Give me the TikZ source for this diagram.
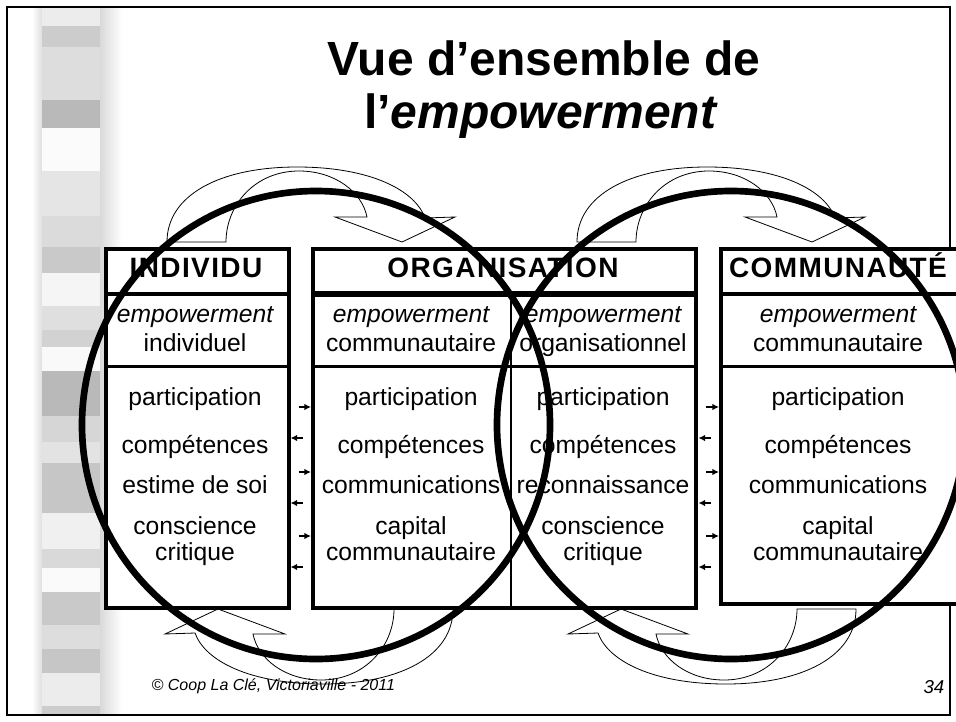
\documentclass[tikz,border=0pt]{standalone}
\usepackage{fontspec}
\setmainfont{Liberation Sans}
\usetikzlibrary{arrows.meta}

\tikzset{
  colbox/.style={draw, line width=3pt, fill=white, anchor=north west, inner sep=0pt},
  hdrline/.style={line width=3pt},
  subline/.style={line width=1.8pt},
  titletxt/.style={anchor=base, font=\fontsize{36}{40}\selectfont\bfseries},
  hdrtxt/.style={anchor=base, font=\fontsize{21}{25}\selectfont\bfseries\addfontfeature{LetterSpace=5}},
  cellitem/.style={anchor=base, font=\fontsize{18.5}{22}\selectfont},
  smallarr/.style={line width=1.2pt, shorten <=6pt, -{Latex[length=5pt,width=5pt]}},
  blockarr/.style={line width=0.6pt, fill=white},
  bigring/.style={line width=5pt},
  pics/bentarrow/.style={code={
    \draw[blockarr] (167,242) .. controls (167,195) and (220,167) .. (297,167)
      .. controls (370,167) and (415,190) .. (425,218) -- (455,217) -- (402,242)
      -- (335,217) -- (367,217) .. controls (362,192) and (335,171) .. (299,171)
      .. controls (255,171) and (226,205) .. (226,242) -- cycle;
  }},
}

\begin{document}
\begin{tikzpicture}[x=0.75pt, y=-0.75pt]
    \useasboundingbox (0,0) rectangle (956,721);
    \clip (0,0) rectangle (956,721);

    % left band of the slide
    \shade[left color=gray!35, right color=white] (96,7) rectangle (122,715);
    \shade[left color=white, right color=gray!25] (32,7) rectangle (42,715);
    \foreach \ya/\yb/\g in {7/26/15, 26/47/40, 47/100/27, 100/128/55, 128/171/3,
        171/216/20, 216/247/28, 247/273/42, 273/306/8, 306/330/25, 330/347/35,
        347/371/5, 371/416/55, 416/442/32, 442/463/22, 463/513/45, 513/549/12,
        549/568/30, 568/592/4, 592/625/42, 625/649/27, 649/673/45, 673/706/15,
        706/715/40}
        \fill[gray!\g] (42,\ya) rectangle (100,\yb);

    % slide frame
    \draw[line width=1.5pt] (7,7) rectangle (950,715);

    % title
    \node[titletxt] (title1) at (544,75) {Vue d’ensemble de};
    \node[titletxt] (title2) at (541,128) {l’\textit{empowerment}};

    % curved block arrows
    \pic at (0,0) {bentarrow};
    \pic at (410,0) {bentarrow};
    \pic[rotate=180] at (620,851) {bentarrow};
    \pic[rotate=180] at (1023,851) {bentarrow};

    % the three columns
    \node[colbox, minimum width=136.9pt, minimum height=268.9pt] (indiv) at (104,247) {};
    \node[colbox, minimum width=287.6pt, minimum height=268.9pt] (orga) at (311,247) {};
    \node[colbox, minimum width=184.5pt, minimum height=266.3pt] (commu) at (719,247) {};
    \coordinate (hdr) at (0,294);
    \coordinate (sub) at (0,366.5);
    \coordinate (div) at (511,294);
    \draw[hdrline] (indiv.west |- hdr) -- (indiv.east |- hdr);
    \draw[line width=4.5pt] (orga.west |- hdr) -- (orga.east |- hdr);
    \draw[hdrline] (commu.west |- hdr) -- (commu.east |- hdr);
    \draw[subline] (indiv.west |- sub) -- (indiv.east |- sub);
    \draw[subline] (orga.west |- sub) -- (orga.east |- sub);
    \draw[subline] (commu.west |- sub) -- (commu.east |- sub);
    \draw[line width=1.5pt] (div) -- (div |- orga.south);

    % INDIVIDU
    \node[hdrtxt] (hIndiv) at (196,277) {INDIVIDU};
    \node[cellitem] (eIndiv) at (195,322) {\itshape empowerment};
    \node[cellitem] (sIndiv) at (195,351) {individuel};
    \node[cellitem] (aIndiv) at (195,405) {participation};
    \node[cellitem] (bIndiv) at (195,453) {compétences};
    \node[cellitem] (cIndiv) at (195,493) {estime de soi};
    \node[cellitem] (dIndiv) at (195,534) {conscience};
    \node[cellitem] (fIndiv) at (195,560) {critique};

    % ORGANISATION
    \node[hdrtxt] (hOrga) at (503,277) {ORGANISATION};
    \node[cellitem] (eOrgaL) at (411,322) {\itshape empowerment};
    \node[cellitem] (sOrgaL) at (411,351) {communautaire};
    \node[cellitem] (aOrgaL) at (411,405) {participation};
    \node[cellitem] (bOrgaL) at (411,453) {compétences};
    \node[cellitem] (cOrgaL) at (411,493) {communications};
    \node[cellitem] (dOrgaL) at (411,534) {capital};
    \node[cellitem] (fOrgaL) at (411,560) {communautaire};
    \node[cellitem] (eOrgaR) at (603,322) {\itshape empowerment};
    \node[cellitem] (sOrgaR) at (603,351) {organisationnel};
    \node[cellitem] (aOrgaR) at (603,405) {participation};
    \node[cellitem] (bOrgaR) at (603,453) {compétences};
    \node[cellitem] (cOrgaR) at (603,493) {reconnaissance};
    \node[cellitem] (dOrgaR) at (603,534) {conscience};
    \node[cellitem] (fOrgaR) at (603,560) {critique};

    % COMMUNAUTE
    \node[hdrtxt] (hCommu) at (838,277) {COMMUNAUTÉ};
    \node[cellitem] (eCommu) at (838,322) {\itshape empowerment};
    \node[cellitem] (sCommu) at (838,351) {communautaire};
    \node[cellitem] (aCommu) at (838,405) {participation};
    \node[cellitem] (bCommu) at (838,453) {compétences};
    \node[cellitem] (cCommu) at (838,493) {communications};
    \node[cellitem] (dCommu) at (838,534) {capital};
    \node[cellitem] (fCommu) at (838,560) {communautaire};

    % exchanges between columns
    \foreach \y in {407,472,536} {
        \draw[smallarr] (indiv.east |- 0,\y) -- (orga.west |- 0,\y);
        \draw[smallarr] (orga.east |- 0,\y) -- (commu.west |- 0,\y);
    }
    \foreach \y in {438,503,567} {
        \draw[smallarr] (orga.west |- 0,\y) -- (indiv.east |- 0,\y);
        \draw[smallarr] (commu.west |- 0,\y) -- (orga.east |- 0,\y);
    }

    % the two rings
    \draw[bigring] (316,425) circle [radius=234];
    \draw[bigring] (731,425) circle [radius=234];

    % footer
    \node[anchor=base west, font=\fontsize{12}{14}\selectfont\itshape] (copy) at (147,690) {© Coop La Clé, Victoriaville - 2011};
    \node[anchor=base east, font=\fontsize{14}{16}\selectfont\itshape] (pageno) at (949,693) {34};
\end{tikzpicture}
\end{document}
